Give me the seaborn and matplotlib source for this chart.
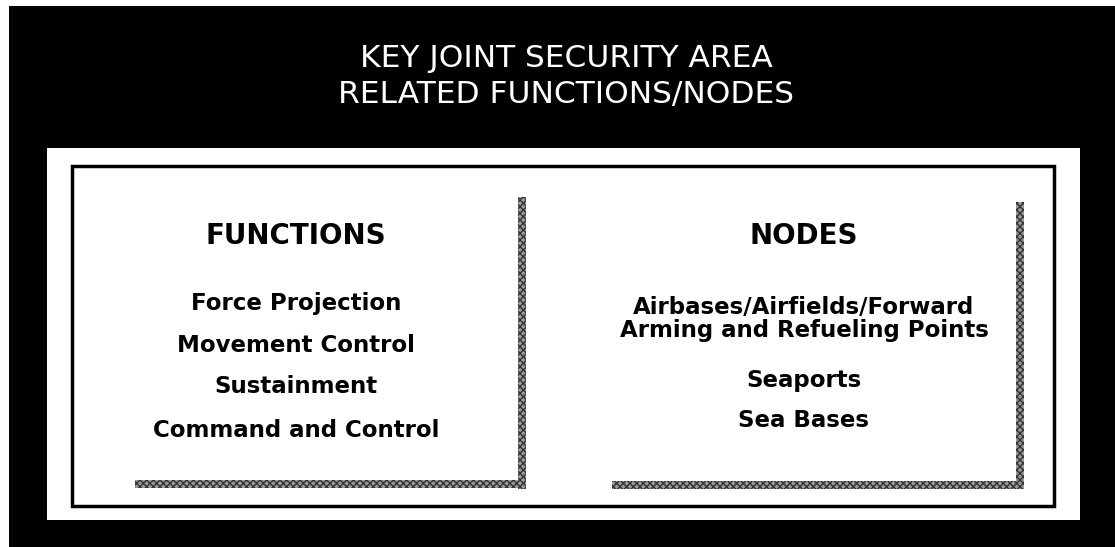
import matplotlib
matplotlib.use("Agg")
import matplotlib.pyplot as plt
import matplotlib.patches as mpatches
import seaborn as sns

# Text content of the diagram
title_lines = ["KEY JOINT SECURITY AREA", "RELATED FUNCTIONS/NODES"]
left_heading = "FUNCTIONS"
functions = ["Force Projection", "Movement Control", "Sustainment", "Command and Control"]
right_heading = "NODES"
nodes = ["Airbases/Airfields/Forward", "Arming and Refueling Points", "Seaports", "Sea Bases"]

sns.set_theme(style="white")
plt.rcParams["font.family"] = ["DejaVu Sans"]

W, H = 1115, 547
fig = plt.figure(figsize=(W / 100, H / 100), dpi=100)
ax = fig.add_axes([0, 0, 1, 1])
ax.set_xlim(0, W)
ax.set_ylim(H, 0)
ax.axis("off")

# black backdrop, white panel, inner framed box
ax.add_patch(mpatches.Rectangle((9, 6), W - 9, H - 6, color="black", lw=0))
ax.add_patch(mpatches.Rectangle((47, 148), 1033, 372, color="white", lw=0))
ax.add_patch(mpatches.Rectangle((72, 166), 982, 340, fill=False, ec="black", lw=2.5))

# title
for y, line in zip([67, 103], title_lines):
    ax.text(566, y, line, color="white", fontsize=22.5, ha="center", va="baseline")

# textured shadow edges of each column box
tex = dict(fc="#9a9a9a", ec="#333333", hatch="xxxxx", lw=0)
ax.add_patch(mpatches.Rectangle((518, 197), 8, 292, **tex))
ax.add_patch(mpatches.Rectangle((135, 480), 391, 8, **tex))
ax.add_patch(mpatches.Rectangle((1016, 202), 8, 287, **tex))
ax.add_patch(mpatches.Rectangle((612, 481), 412, 8, **tex))

# left column
ax.text(296, 244, left_heading, fontsize=20, fontweight="bold", color="black",
        ha="center", va="baseline")
for y, item in zip([310, 352, 393, 437], functions):
    ax.text(296, y, item, fontsize=16.5, fontweight="bold", color="black",
            ha="center", va="baseline")

# right column
ax.text(804, 244, right_heading, fontsize=20, fontweight="bold", color="black",
        ha="center", va="baseline")
for y, item in zip([314, 337, 387, 427], nodes):
    ax.text(804, y, item, fontsize=16.5, fontweight="bold", color="black",
            ha="center", va="baseline")

fig.savefig("out.png", dpi=100)
